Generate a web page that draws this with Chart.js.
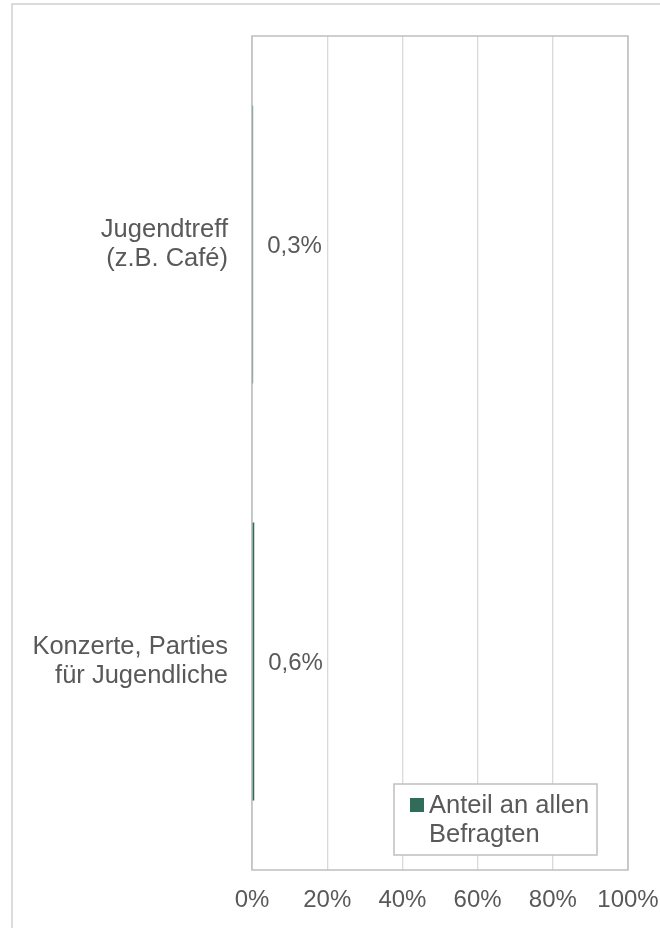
<!DOCTYPE html>
<html>
<head>
<meta charset="utf-8">
<script src="https://cdn.jsdelivr.net/npm/chart.js@4"></script>
<style>
  html, body { margin: 0; padding: 0; background: #fff; }
  #chart { display: block; }
</style>
</head>
<body>
<canvas id="chart" width="660" height="928"></canvas>
<script>
const categories = [
  ['Jugendtreff', '(z.B. Café)'],
  ['Konzerte, Parties', 'für Jugendliche']
];
const shares = [0.3, 0.6];
const seriesLabel = ['Anteil an allen', 'Befragten'];
const xTicks = [0, 20, 40, 60, 80, 100];

const TEXT = '#595959';
const BAR = '#316b59';
const FONT = '"Liberation Sans", Arial, sans-serif';

Chart.defaults.font.family = FONT;
Chart.defaults.font.size = 24;
Chart.defaults.color = TEXT;

// no extra room for overhanging tick labels, the plot box is fixed
function fixBox(scale, side, size) {
  scale[side] = size;
  scale.paddingTop = scale.paddingBottom = 0;
  scale.paddingLeft = scale.paddingRight = 0;
}

// outer frame of the chart object
const frame = {
  id: 'frame',
  beforeDraw(chart) {
    const ctx = chart.ctx;
    ctx.save();
    ctx.fillStyle = '#fff';
    ctx.fillRect(0, 0, chart.width, chart.height);
    ctx.strokeStyle = '#d0d0d0';
    ctx.lineWidth = 1.5;
    ctx.strokeRect(12, 4, chart.width + 20, chart.height + 20);
    ctx.restore();
  }
};

// plot area border, below the bars
const plotBorder = {
  id: 'plotBorder',
  beforeDatasetsDraw(chart) {
    const { ctx, chartArea: a } = chart;
    ctx.save();
    ctx.strokeStyle = '#bfbfbf';
    ctx.lineWidth = 1.5;
    ctx.strokeRect(a.left, a.top, a.right - a.left, a.bottom - a.top);
    ctx.restore();
  }
};

// "0,3%" style labels next to each bar end
const valueLabels = {
  id: 'valueLabels',
  afterDatasetsDraw(chart) {
    const ctx = chart.ctx;
    const meta = chart.getDatasetMeta(0);
    ctx.save();
    ctx.font = '24px ' + FONT;
    ctx.fillStyle = TEXT;
    ctx.textAlign = 'left';
    ctx.textBaseline = 'middle';
    meta.data.forEach((bar, i) => {
      const txt = shares[i].toFixed(1).replace('.', ',') + '%';
      ctx.fillText(txt, bar.x + 14, bar.y + 2);
    });
    ctx.restore();
  }
};

// boxed legend inside the plot, bottom right
const boxLegend = {
  id: 'boxLegend',
  afterDraw(chart) {
    const ctx = chart.ctx;
    const ds = chart.data.datasets[0];
    const x = 394, y = 784, w = 203, h = 71;
    ctx.save();
    ctx.fillStyle = '#fff';
    ctx.fillRect(x, y, w, h);
    ctx.strokeStyle = '#bfbfbf';
    ctx.lineWidth = 1.5;
    ctx.strokeRect(x, y, w, h);
    ctx.fillStyle = ds.backgroundColor;
    ctx.fillRect(x + 16, y + 14, 14, 14);
    ctx.font = '25.5px ' + FONT;
    ctx.fillStyle = TEXT;
    ctx.textBaseline = 'alphabetic';
    ds.label.forEach((line, i) => {
      ctx.fillText(line, x + 35, y + 29 + i * 29);
    });
    ctx.restore();
  }
};

new Chart(document.getElementById('chart'), {
  type: 'bar',
  data: {
    labels: categories,
    datasets: [{
      label: seriesLabel,
      data: shares,
      backgroundColor: BAR,
      borderWidth: 0,
      barPercentage: 0.667,
      categoryPercentage: 1
    }]
  },
  options: {
    indexAxis: 'y',
    responsive: false,
    animation: false,
    layout: {
      padding: { top: 36, right: 32, bottom: 0, left: 0 }
    },
    plugins: {
      legend: { display: false },
      tooltip: { enabled: false }
    },
    scales: {
      x: {
        min: 0,
        max: 100,
        afterBuildTicks(scale) {
          scale.ticks = xTicks.map(v => ({ value: v }));
        },
        afterFit(scale) { fixBox(scale, 'height', 58); },
        grid: {
          color: '#d9d9d9',
          lineWidth: 1.3,
          drawTicks: false
        },
        border: { display: false },
        ticks: {
          padding: 16,
          maxRotation: 0,
          callback: v => v + '%'
        }
      },
      y: {
        afterFit(scale) { fixBox(scale, 'width', 252); },
        grid: { display: false, drawTicks: false },
        border: { display: false },
        ticks: {
          padding: 24,
          font: { size: 25.5, lineHeight: 1.15 }
        }
      }
    }
  },
  plugins: [frame, plotBorder, valueLabels, boxLegend]
});
</script>
</body>
</html>
